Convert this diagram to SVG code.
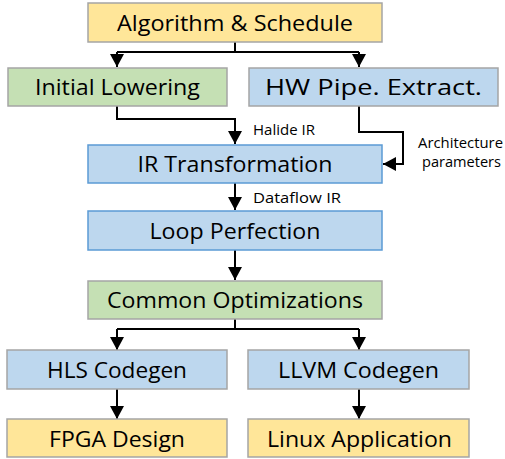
<svg xmlns="http://www.w3.org/2000/svg" width="505" height="459" viewBox="0 0 505 459">
<style>
.box{stroke:#A5A5A5;stroke-width:1.5}
.y{fill:#FFE699}.g{fill:#C5E0B4}.b{fill:#BDD7EE}
.bb{stroke:#5B9BD5}
.t{font-family:"Open Sans","Liberation Sans",sans-serif;font-size:22px;fill:#000;text-anchor:middle}
.s{font-family:"Open Sans","Liberation Sans",sans-serif;font-size:14px;fill:#000}
.c{fill:none;stroke:#000;stroke-width:2}
</style>
<defs>
<marker id="ah" markerUnits="userSpaceOnUse" markerWidth="14" markerHeight="14" viewBox="0 0 14 14" refX="13" refY="7" orient="auto">
<path d="M0,0 L13,7 L0,14 Z" fill="#000"/>
</marker>
</defs>
<g id="connectors">
<path class="c" d="M235,42 V52 M117,52 H359" />
<path class="c" d="M117,52 V67" marker-end="url(#ah)"/>
<path class="c" d="M359,52 V67" marker-end="url(#ah)"/>
<path class="c" d="M117,106 V119 H235 V144" marker-end="url(#ah)"/>
<path class="c" d="M359,106 V132 H403 V164 H383" marker-end="url(#ah)"/>
<path class="c" d="M235,183 V210" marker-end="url(#ah)"/>
<path class="c" d="M235,250 V280" marker-end="url(#ah)"/>
<path class="c" d="M235,319 V329 M117,329 H359"/>
<path class="c" d="M117,329 V350" marker-end="url(#ah)"/>
<path class="c" d="M359,329 V350" marker-end="url(#ah)"/>
<path class="c" d="M117,389 V419" marker-end="url(#ah)"/>
<path class="c" d="M359,389 V419" marker-end="url(#ah)"/>
<text class="s" x="253" y="135" textLength="62" lengthAdjust="spacingAndGlyphs">Halide IR</text>
<text class="s" x="418" y="148" textLength="85" lengthAdjust="spacingAndGlyphs">Architecture</text>
<text class="s" x="422" y="167" textLength="79" lengthAdjust="spacingAndGlyphs">parameters</text>
<text class="s" x="253" y="203" textLength="88" lengthAdjust="spacingAndGlyphs">Dataflow IR</text>
</g>
<g id="algorithm-schedule"><rect class="box y" x="88" y="3" width="294" height="39"/><text class="t" x="235" y="31" textLength="236" lengthAdjust="spacingAndGlyphs">Algorithm &amp; Schedule</text></g>
<g id="initial-lowering"><rect class="box g" x="8" y="68" width="219" height="38"/><text class="t" x="117.5" y="95" textLength="165" lengthAdjust="spacingAndGlyphs">Initial Lowering</text></g>
<g id="hw-pipe-extract"><rect class="box b" x="249" y="68" width="249" height="38"/><text class="t" x="373.5" y="95" textLength="217" lengthAdjust="spacingAndGlyphs">HW Pipe. Extract.</text></g>
<g id="ir-transformation"><rect class="box b bb" x="88" y="145" width="294" height="38"/><text class="t" x="235" y="172" textLength="195" lengthAdjust="spacingAndGlyphs">IR Transformation</text></g>
<g id="loop-perfection"><rect class="box b bb" x="88" y="211" width="294" height="39"/><text class="t" x="235" y="239" textLength="171" lengthAdjust="spacingAndGlyphs">Loop Perfection</text></g>
<g id="common-optimizations"><rect class="box g" x="88" y="281" width="294" height="38"/><text class="t" x="235" y="308" textLength="256" lengthAdjust="spacingAndGlyphs">Common Optimizations</text></g>
<g id="hls-codegen"><rect class="box b" x="7" y="350" width="220" height="39"/><text class="t" x="117" y="378" textLength="140" lengthAdjust="spacingAndGlyphs">HLS Codegen</text></g>
<g id="llvm-codegen"><rect class="box b" x="248" y="350" width="221" height="39"/><text class="t" x="358.5" y="378" textLength="161" lengthAdjust="spacingAndGlyphs">LLVM Codegen</text></g>
<g id="fpga-design"><rect class="box y" x="7" y="419" width="220" height="38"/><text class="t" x="117" y="447" textLength="136" lengthAdjust="spacingAndGlyphs">FPGA Design</text></g>
<g id="linux-application"><rect class="box y" x="248" y="419" width="221" height="38"/><text class="t" x="359.5" y="447" textLength="185" lengthAdjust="spacingAndGlyphs">Linux Application</text></g>
</svg>
